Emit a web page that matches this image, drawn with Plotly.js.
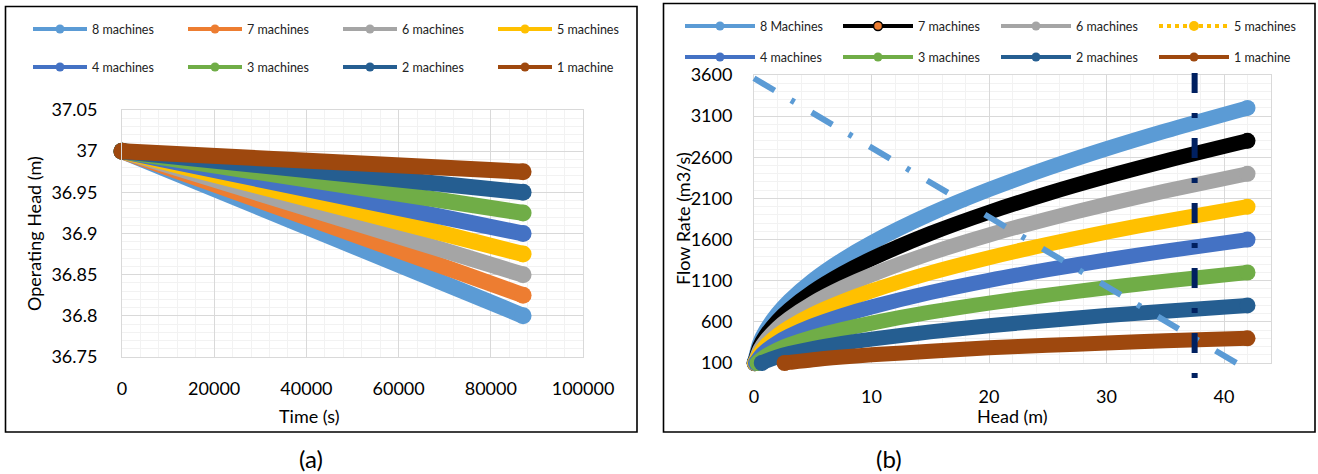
<!DOCTYPE html>
<html>
<head>
<meta charset="utf-8">
<script src="https://cdn.plot.ly/plotly-3.0.1.min.js"></script>
<style>
html,body{margin:0;padding:0;background:#fff;}
#chart{width:1318px;height:474px;}
</style>
</head>
<body>
<div id="chart"></div>
<script>
// ================= DATA =================
// Panel (a): operating head (m) versus time (s)
const namesA = ['8 machines','7 machines','6 machines','5 machines','4 machines','3 machines','2 machines','1 machine'];
const timeA  = [0, 87000];
const headA8 = [37.0, 36.800];
const headA7 = [37.0, 36.825];
const headA6 = [37.0, 36.850];
const headA5 = [37.0, 36.875];
const headA4 = [37.0, 36.900];
const headA3 = [37.0, 36.925];
const headA2 = [37.0, 36.950];
const headA1 = [37.0, 36.975];
const xTicksA = [0, 20000, 40000, 60000, 80000, 100000];
const xTickTextA = ['0','20000','40000','60000','80000','100000'];
const yTicksA = [36.75, 36.8, 36.85, 36.9, 36.95, 37, 37.05];
const yTickTextA = ['36.75','36.8','36.85','36.9','36.95','37','37.05'];

// Panel (b): flow rate (m3/s) versus head (m)
const namesB = ['8 Machines','7 machines','6 machines','5 machines','4 machines','3 machines','2 machines','1 machine'];
const headB8 = [0.05, 0.5, 1, 2, 3, 5, 7.5, 10, 15, 20, 25, 30, 35, 42];
const flowB8 = [110, 349, 494, 698, 855, 1104, 1352, 1561, 1912, 2208, 2468, 2704, 2920, 3200];
const headB7 = [0.05, 0.5, 1, 2, 3, 5, 7.5, 10, 15, 20, 25, 30, 35, 42];
const flowB7 = [97, 305, 432, 611, 748, 966, 1183, 1366, 1673, 1932, 2160, 2366, 2555, 2800];
const headB6 = [0.07, 0.5, 1, 2, 3, 5, 7.5, 10, 15, 20, 25, 30, 35, 42];
const flowB6 = [98, 262, 370, 524, 641, 828, 1014, 1171, 1434, 1656, 1851, 2028, 2190, 2400];
const headB5 = [0.1, 0.5, 1, 2, 3, 5, 7.5, 10, 15, 20, 25, 30, 35, 42];
const flowB5 = [98, 218, 309, 436, 534, 690, 845, 976, 1195, 1380, 1543, 1690, 1825, 2000];
const headB4 = [0.16, 0.5, 1, 2, 3, 5, 7.5, 10, 15, 20, 25, 30, 35, 42];
const flowB4 = [99, 175, 247, 349, 427, 552, 676, 780, 956, 1104, 1234, 1352, 1460, 1600];
const headB3 = [0.29, 0.5, 1, 2, 3, 5, 7.5, 10, 15, 20, 25, 30, 35, 42];
const flowB3 = [100, 131, 185, 262, 321, 414, 507, 585, 717, 828, 925, 1014, 1095, 1200];
const headB2 = [0.66, 1, 2, 3, 5, 7.5, 10, 15, 20, 25, 30, 35, 42];
const flowB2 = [100, 123, 175, 214, 276, 338, 390, 478, 552, 617, 676, 730, 800];
const headB1 = [2.6, 3, 5, 7.5, 10, 15, 20, 25, 30, 35, 42];
const flowB1 = [100, 107, 140, 172, 200, 242, 285, 315, 343, 370, 400];
const systemHead = [0, 42];
const systemFlow = [3560, 20];
const operHead = [37.5, 37.5];
const operFlow = [3625, -140];
const xTicksB = [0, 10, 20, 30, 40];
const xTickTextB = ['0','10','20','30','40'];
const yTicksB = [100, 600, 1100, 1600, 2100, 2600, 3100, 3600];
const yTickTextB = ['100','600','1100','1600','2100','2600','3100','3600'];

// ================= STYLE =================
const colorsA = ['#5B9BD5','#ED7D31','#A5A5A5','#FFC000','#4472C4','#70AD47','#255E91','#9E480E'];
const colorsB = ['#5B9BD5','#000000','#A5A5A5','#FFC000','#4472C4','#70AD47','#255E91','#9E480E'];
const FONT = 'Lato, "Open Sans", sans-serif';
const W = 1318, H = 474;
const px = v => v / W;
const py = v => 1 - v / H;

// plot boxes (pixels)
const A = {l:122, r:583, t:110, b:357};
const B = {l:754, r:1271, t:75, b:363};
const Bx = [0, 44], By = [100, 3600];
const E = {l:735, r:1300, t:60, b:395}; // extended drawing box for panel (b)
const ux = (Bx[1]-Bx[0])/(B.r-B.l), uy = (By[1]-By[0])/(B.b-B.t);

const endSizes = (arr, s) => arr.map((_, k) => (k === 0 || k === arr.length - 1) ? s : 0);

const traces = [];
const headsA = [headA8, headA7, headA6, headA5, headA4, headA3, headA2, headA1];
headsA.forEach((hv, i) => {
  traces.push({
    x: timeA, y: hv, xaxis:'x', yaxis:'y', mode:'lines+markers', type:'scatter',
    line:{color:colorsA[i], width:16},
    marker:{color:colorsA[i], size:endSizes(hv, 17), opacity:1, line:{width:0}},
    cliponaxis:false, showlegend:false, hoverinfo:'skip'
  });
});
const curvesB = [[headB8,flowB8],[headB7,flowB7],[headB6,flowB6],[headB5,flowB5],
                 [headB4,flowB4],[headB3,flowB3],[headB2,flowB2],[headB1,flowB1]];
curvesB.forEach((c, i) => {
  traces.push({
    x: c[0], y: c[1], xaxis:'x3', yaxis:'y3', mode:'lines+markers', type:'scatter',
    line:{color:colorsB[i], width:15, shape:'spline', smoothing:0.8},
    marker:{color:colorsB[i], size:endSizes(c[0], 16), opacity:1, line:{width:0}},
    cliponaxis:false, showlegend:false, hoverinfo:'skip'
  });
});
traces.push({x: systemHead, y: systemFlow, xaxis:'x3', yaxis:'y3', mode:'lines', type:'scatter',
  line:{color:'#5B9BD5', width:6, dash:'24px,19px,4px,20px'}, showlegend:false, hoverinfo:'skip'});
traces.push({x: operHead, y: operFlow, xaxis:'x3', yaxis:'y3', mode:'lines', type:'scatter',
  line:{color:'#002060', width:6, dash:'20px,20px,5px,20px'}, showlegend:false, hoverinfo:'skip'});

// legend-only entries
namesA.forEach((n, i) => {
  traces.push({x:[null], y:[null], xaxis:'x', yaxis:'y', mode:'lines+markers', type:'scatter', name:n,
    legend: i < 4 ? 'legend' : 'legend2',
    line:{color:colorsA[i], width:4}, marker:{color:colorsA[i], size:9}, hoverinfo:'skip'});
});
namesB.forEach((n, i) => {
  const t = {x:[null], y:[null], xaxis:'x2', yaxis:'y2', mode:'lines+markers', type:'scatter', name:n,
    legend: i < 4 ? 'legend3' : 'legend4',
    line:{color:colorsB[i], width:4}, marker:{color:colorsB[i], size:9}, hoverinfo:'skip'};
  if (i === 1) t.marker = {color:'#ED7D31', size:9, line:{color:'#000', width:1.5}};
  if (i === 3) { t.line = {color:'#FFC000', width:4, dash:'dot'}; t.marker = {color:'#FFC000', size:10}; }
  traces.push(t);
});

const gridMajor = '#D9D9D9', gridMinor = '#F2F2F2';
const tickFont = {family:FONT, size:18, color:'#000'};
function axisBase(extra) {
  return Object.assign({
    tickmode:'array', showgrid:true, gridcolor:gridMajor, gridwidth:1,
    zeroline:false, showline:true, linecolor:gridMajor, linewidth:1, mirror:true,
    ticks:'outside', tickcolor:'rgba(0,0,0,0)', tickfont:tickFont, fixedrange:true
  }, extra);
}
const legFont = {family:FONT, size:12.5, color:'#222'};
function legend(xp, ytop, iw, ew) {
  return {orientation:'h', x:px(xp), xanchor:'left', y:py(ytop), yanchor:'top',
    bgcolor:'rgba(0,0,0,0)', borderwidth:0, font:legFont, itemwidth:iw,
    entrywidth:ew, entrywidthmode:'pixels', traceorder:'normal', itemclick:false};
}
function label(text, xp, yp, size, angle) {
  return {text:text, xref:'paper', yref:'paper', x:px(xp), y:py(yp), xanchor:'center', yanchor:'middle',
    textangle:angle || 0, showarrow:false, borderpad:0, font:{family:FONT, size:size, color:'#000'}};
}

const layout = {
  width:W, height:H, margin:{l:0,r:0,t:0,b:0,pad:0},
  paper_bgcolor:'#fff', plot_bgcolor:'rgba(0,0,0,0)',
  font:{family:FONT, color:'#000'},
  xaxis: axisBase({domain:[px(A.l),px(A.r)], range:[0,100000], anchor:'y',
    tickvals:xTicksA, ticktext:xTickTextA, ticklen:15,
    minor:{tickmode:'linear', tick0:0, dtick:4000, showgrid:true, gridcolor:gridMinor, gridwidth:1, ticklen:0}}),
  yaxis: axisBase({domain:[py(A.b),py(A.t)], range:[36.75,37.05], anchor:'x',
    tickvals:yTicksA, ticktext:yTickTextA, ticklen:20,
    minor:{tickmode:'linear', tick0:36.75, dtick:0.01, showgrid:true, gridcolor:gridMinor, gridwidth:1, ticklen:0}}),
  xaxis2: axisBase({domain:[px(B.l),px(B.r)], range:Bx, anchor:'y2',
    tickvals:xTicksB, ticktext:xTickTextB, ticklen:17,
    minor:{tickmode:'linear', tick0:0, dtick:2, showgrid:true, gridcolor:gridMinor, gridwidth:1, ticklen:0}}),
  yaxis2: axisBase({domain:[py(B.b),py(B.t)], range:By, anchor:'x2',
    tickvals:yTicksB, ticktext:yTickTextB, ticklen:17,
    minor:{tickmode:'linear', tick0:100, dtick:100, showgrid:true, gridcolor:gridMinor, gridwidth:1, ticklen:0}}),
  xaxis3: {domain:[px(E.l),px(E.r)], range:[Bx[0]-(B.l-E.l)*ux, Bx[1]+(E.r-B.r)*ux],
    visible:false, anchor:'y3', fixedrange:true},
  yaxis3: {domain:[py(E.b),py(E.t)], range:[By[0]-(E.b-B.b)*uy, By[1]+(B.t-E.t)*uy],
    visible:false, anchor:'x3', fixedrange:true},
  legend:  legend(28, 14.4, 54, 86),
  legend2: legend(28, 52.4, 54, 86),
  legend3: legend(680, 11.4, 70, 73),
  legend4: legend(680, 42.4, 70, 73),
  shapes: [
    {type:'rect', xref:'paper', yref:'paper', x0:px(5.5), x1:px(637), y0:py(432), y1:py(6.5),
     line:{color:'#000', width:1.6}, fillcolor:'rgba(0,0,0,0)', layer:'above'},
    {type:'rect', xref:'paper', yref:'paper', x0:px(663.5), x1:px(1315), y0:py(432), y1:py(3.5),
     line:{color:'#000', width:1.6}, fillcolor:'rgba(0,0,0,0)', layer:'above'}
  ],
  annotations: [
    label('Operating Head (m)', 34, 234, 18, -90),
    label('Time (s)', 309, 416, 18),
    label('Flow Rate (m3/s)', 683, 219, 18, -90),
    label('Head (m)', 1012, 416, 18),
    label('(a)', 311, 458, 24),
    label('(b)', 889, 458, 24)
  ]
};

Plotly.newPlot('chart', traces, layout, {staticPlot:true, displayModeBar:false});
</script>
</body>
</html>
